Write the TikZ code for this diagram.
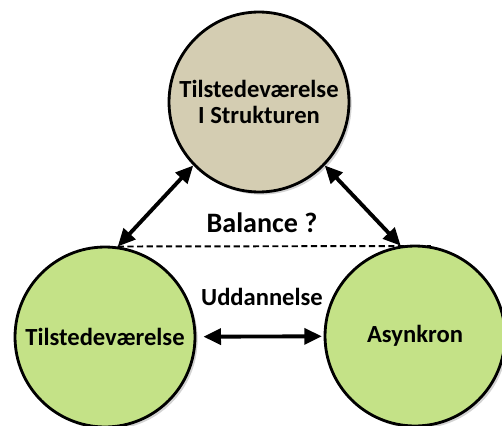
\documentclass[tikz,border=0pt]{standalone}
\usepackage{fontspec}
\setmainfont{Carlito}
\usetikzlibrary{arrows.meta,shadows}
\definecolor{kredsbeige}{RGB}{212,205,178}
\definecolor{kredsgroen}{RGB}{196,226,135}
\tikzstyle{kreds}=[draw=black, circle, line width=1.6pt, minimum size=3.6cm,
    inner sep=0pt, align=center, font=\fontsize{14}{15}\selectfont\bfseries,
    drop shadow={opacity=0.35,shadow xshift=1.5pt,shadow yshift=-1.5pt}]
\tikzstyle{struk}=[kreds, fill=kredsbeige]
\tikzstyle{groen}=[kreds, fill=kredsgroen]
\tikzstyle{tekst}=[font=\fontsize{14}{15}\selectfont\bfseries]
\tikzstyle{pil}=[{Triangle[length=10pt,width=9pt]}-{Triangle[length=10pt,width=9pt]},
    line width=2.2pt]

\begin{document}
\begin{tikzpicture}[x=0.02cm,y=-0.02cm]
  \useasboundingbox (0,0) rectangle (502,425);
  \node at (259,102) (ts)[struk] {Tilstedeværelse\\I Strukturen};
  \node at (105,337) (t)[groen] {Tilstedeværelse};
  \node at (415,336) (as)[groen] {Asynkron};

  \node at (262,223) (bal)[tekst,font=\fontsize{16}{17}\selectfont\bfseries] {Balance ?};
  \node at (262,297) (udd)[tekst] {Uddannelse};

  \draw[pil] (t.82) -- (ts.224);
  \draw[pil] (as.99) -- (ts.316);
  \draw[pil,shorten <=4pt,shorten >=1pt] (t) -- (as);

  \draw[dashed, line width=1.1pt, dash pattern=on 3.5pt off 2pt] (t.82) -- (as.80);
\end{tikzpicture}
\end{document}
